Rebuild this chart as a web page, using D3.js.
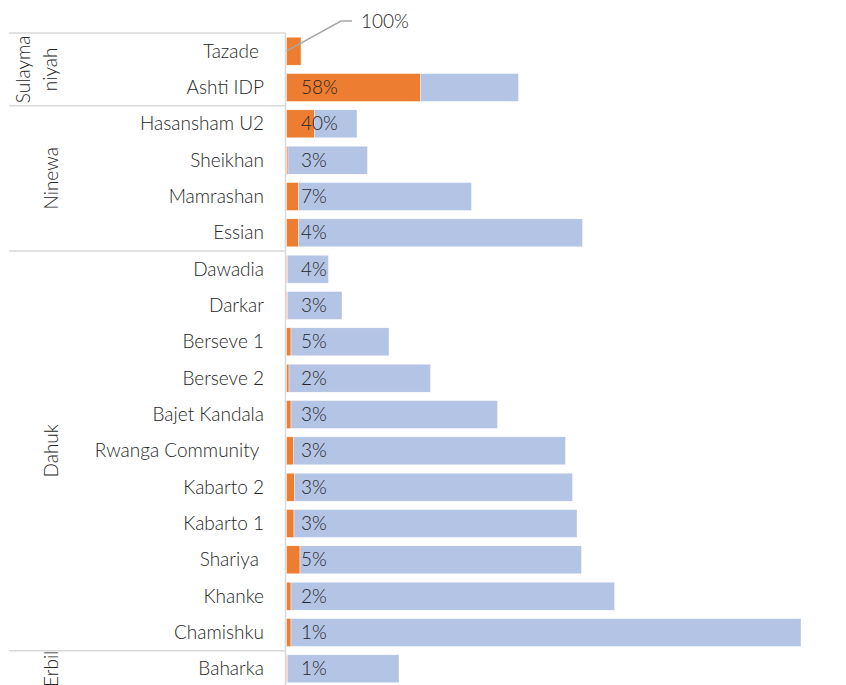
<!DOCTYPE html>
<html>
<head>
<meta charset="utf-8">
<script src="https://cdn.jsdelivr.net/npm/d3@7"></script>
<style>
  body { margin: 0; background: #fff; }
  text { font-family: Lato, "Open Sans", sans-serif; font-weight: 300; fill: #262626; }
</style>
</head>
<body>
<script>
// sites, top to bottom
var sites = ["Tazade ", "Ashti IDP", "Hasansham U2", "Sheikhan", "Mamrashan", "Essian",
  "Dawadia", "Darkar", "Berseve 1", "Berseve 2", "Bajet Kandala", "Rwanga Community ",
  "Kabarto 2", "Kabarto 1", "Shariya ", "Khanke", "Chamishku", "Baharka"];
// orange part and remaining (blue) part of each bar
var orangeVals = [14.5, 134, 28, 1.5, 12, 12, 1, 1, 4.5, 2.5, 4.5, 7, 8, 7.5, 13.5, 4.5, 4.5, 1];
var blueVals = [0, 98, 42.5, 79.5, 173, 284, 41, 54.5, 98, 141.5, 206.5, 272, 278, 283, 281.5, 323.5, 510, 111.5];
// data labels as shown
var pctLabels = ["100%", "58%", "40%", "3%", "7%", "4%", "4%", "3%", "5%", "2%", "3%", "3%", "3%", "3%", "5%", "2%", "1%", "1%"];
// governorates and how many sites each one has
var groupNames = [["Sulayma", "niyah"], ["Ninewa"], ["Dahuk"], ["Erbil"]];
var groupSizes = [2, 4, 11, 1];

var w = 846, h = 685;
var fs = "19px";
var svg = d3.select("body").append("svg")
    .attr("width", w)
    .attr("height", h);

var y = d3.scaleBand()
    .domain(sites)
    .range([33, 687])
    .paddingInner(0.23)
    .paddingOuter(0.115);

var x = d3.scaleLinear()
    .domain([0, 600])
    .range([286.5, 886.5]);

var rows = sites.map(function(s, i){
    return {site: s, orange: orangeVals[i], blue: blueVals[i], label: pctLabels[i]};
});

var stack = d3.stack().keys(["orange", "blue"]);
var series = stack(rows);
var colors = {orange: "#ED7D31", blue: "#B4C4E4"};

svg.append("g").selectAll("g")
    .data(series)
    .enter().append("g")
    .attr("fill", function(d){ return colors[d.key]; })
    .selectAll("rect")
    .data(function(d){ return d; })
    .enter().append("rect")
    .attr("x", function(d){ return x(d[0]); })
    .attr("y", function(d){ return y(d.data.site); })
    .attr("width", function(d){ return x(d[1]) - x(d[0]); })
    .attr("height", y.bandwidth())
    .attr("stroke", "#fff")
    .attr("stroke-width", 0.4);

// category axis line
svg.append("line")
    .attr("x1", 285.5).attr("x2", 285.5)
    .attr("y1", 33).attr("y2", h)
    .attr("stroke", "#d9d9d9").attr("stroke-width", 1.5);

// group separators
var bounds = [0];
groupSizes.forEach(function(n, i){ bounds.push(bounds[i] + n); });
bounds.slice(0, -1).forEach(function(b){
    var yy = b === 0 ? 33 : y(sites[b]) - y.step() * y.paddingInner() / 2;
    svg.append("line")
        .attr("x1", 9).attr("x2", 285.5)
        .attr("y1", yy).attr("y2", yy)
        .attr("stroke", "#d9d9d9").attr("stroke-width", 1.5);
});

// group labels (rotated)
groupNames.forEach(function(lines, i){
    var first = sites[bounds[i]], last = sites[bounds[i + 1] - 1];
    var cy = (y(first) + y(last) + y.bandwidth()) / 2;
    var xs = lines.length === 2 ? [30, 57] : [58];
    lines.forEach(function(t, j){
        svg.append("text")
            .attr("transform", "translate(" + xs[j] + "," + cy + ") rotate(-90)")
            .attr("text-anchor", "middle")
            .style("font-size", fs)
            .text(t);
    });
});

// site labels
svg.append("g").selectAll("text")
    .data(rows)
    .enter().append("text")
    .attr("x", 264)
    .attr("y", function(d){ return y(d.site) + y.bandwidth() / 2; })
    .attr("dy", "0.35em")
    .attr("text-anchor", "end")
    .style("font-size", fs)
    .style("white-space", "pre")
    .text(function(d){ return d.site; });

// data labels
svg.append("g").selectAll("text")
    .data(rows.slice(1))
    .enter().append("text")
    .attr("x", 301)
    .attr("y", function(d){ return y(d.site) + y.bandwidth() / 2; })
    .attr("dy", "0.35em")
    .style("font-size", fs)
    .text(function(d){ return d.label; });

// moved label with leader line
var first = rows[0];
var ty = y(first.site) + y.bandwidth() / 2;
svg.append("path")
    .attr("d", "M" + x(0) + "," + ty + " L341,21 L352,21")
    .attr("fill", "none")
    .attr("stroke", "#a6a6a6")
    .attr("stroke-width", 1.5);
svg.append("text")
    .attr("x", 361)
    .attr("y", 21)
    .attr("dy", "0.35em")
    .style("font-size", fs)
    .text(first.label);
</script>
</body>
</html>
